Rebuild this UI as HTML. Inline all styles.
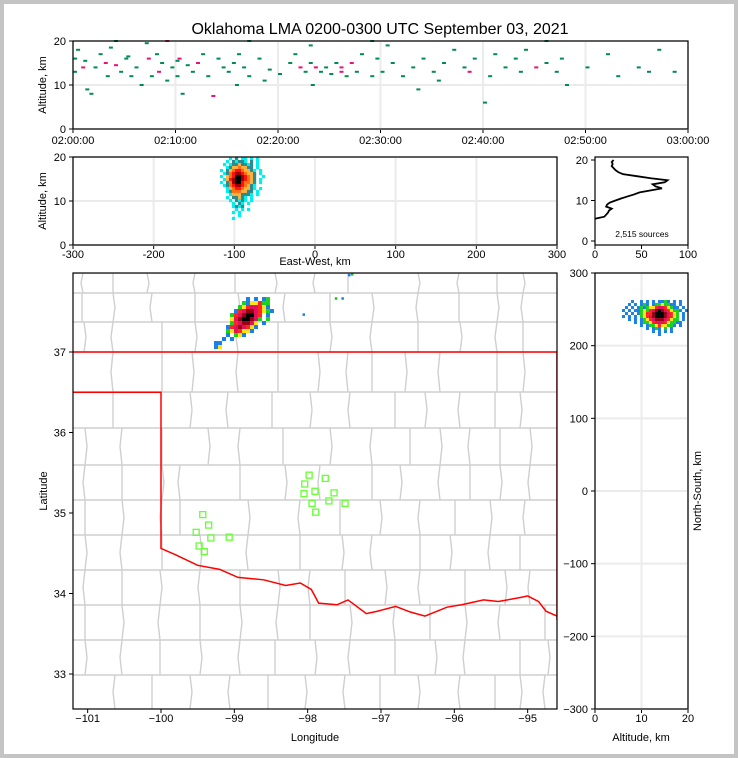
<!DOCTYPE html>
<html><head><meta charset="utf-8">
<style>
html,body{margin:0;padding:0;background:#c4c4c4;}
svg{display:block;font-family:"Liberation Sans",sans-serif;}
</style></head>
<body>
<svg id="chart" width="738" height="758" viewBox="0 0 738 758" xmlns="http://www.w3.org/2000/svg">
<rect x="4" y="4" width="730" height="750" fill="#fff"/>
<text x="380" y="34" font-size="16" text-anchor="middle">Oklahoma LMA 0200-0300 UTC September 03, 2021</text>
<g id="layer"></g>
</svg>
<script>
// ---- time-height data ----
const timesMin=[0,0,0.3,0.8,1,1.2,1.6,2,2.5,3,3.2,3.5,4,4.5,5,5.2,5.5,6,6.5,7,7.2,7.5,8,8.2,8.5,9,9.5,10,10,10.2,10.5,11,11.5,12,12.5,13,13.5,14,14.5,15,15.5,15.8,16,16.5,17,18,18.5,19,20,21,21.5,22,22.5,23,23,23.2,23.5,24,24.5,25,25.5,26,26,26.5,27,27.5,28,29,29.5,30,30.5,31,32,33,33.5,34,35,35.5,36,37,38,38.5,39,40,40.5,41,42,43,43.5,44,45,46,47,47.5,48,50,52,53,55,56,57,58.5,4,9,17,29,46];
const altsKm=[16,13,18,14,15.5,9,8,14,17,15,12,18.5,14.5,13,16,16.5,12,14,10,19.5,16,12,17,13,15,11,14,15.5,12,16,8,14.5,13,15,17,12,7.5,16,14,13,15,10,17,14,12,16,11,13.5,12.5,15,17,14,13,19,15,10,14,13,14,12.5,15,14,13,12,15,13,17,12,16,13,19,15,12,14,9,16,13,11,15,18,14,13,16,6,12,17,14,16,13,18,14,15,13,16,10,14,17,12,14,13,18,13,20,20,20,20,20];
const kinds=[0,0,0,1,0,0,0,0,0,1,0,0,1,0,0,0,0,0,0,0,1,0,0,1,0,0,0,0,0,1,0,0,0,1,0,0,1,0,0,0,0,0,0,0,0,0,0,0,0,0,0,1,0,0,0,0,1,0,0,0,0,1,1,0,1,0,0,0,0,0,0,0,0,0,0,0,0,0,0,0,0,1,0,0,0,0,0,0,0,0,1,0,0,0,0,0,0,0,0,0,0,0,0,1,0,0,0,0];
const timeTicks=[0,10,20,30,40,50,60];
const timeTickLabels=["02:00:00","02:10:00","02:20:00","02:30:00","02:40:00","02:50:00","03:00:00"];
const altTicks=[0,10,20];
// ---- east-west / altitude density grid ----
const xzGridRows=["...1.2.11.1.1...","..1.21221.2.1...",".1.12232212.1...","..123343322.1...","1.2345543321.1..",".12456654332.1..","1.3457765432..1.",".13567765432.1..","1.2467754432.1..",".12456654321....","..1345543321.1..","..124443322.1...","...13332221.1...","..1.22321.1.....","...1.2121.1.....","....1.21.1......","....1212........",".....1.1.1......","....1.1.........","......1.........","....1..........."];
const xzOrigin=[-117.8,20]; const xzStep=[3.72,0.68];
const ewTicks=[-300,-200,-100,0,100,200,300];
// ---- altitude histogram ----
const histAlts=[5.5,6,6.5,7,7.5,8,8.5,9,9.5,10,10.5,11,11.5,12,12.5,13,13.5,14,14.5,15,15.5,16,16.5,17,17.5,18,18.5,19,19.5,20];
const histCounts=[0,10,12,14,15,18,12,13,16,22,28,35,42,48,60,72,65,62,75,78,60,45,30,25,22,20,18,19,18,20];
const histTicks=[0,50,100];
// ---- plan view density grid ----
const planGridRows=["........1.1.12.",".......2133422.","......23455431.",".....1456654321","....24567754.1.","....35677652.2.","....2456653.1..","...14565431....","...2354331.....","...1.231.......","..1.1..........","11.............","13............."];
const planOrigin=[-99.277,37.683]; const planStep=[0.0545,0.0497];
const extraLon=[-98.07,-97.54,-97.45,-97.41,-97.63];
const extraLat=[37.48,37.68,37.97,37.98,37.68];
const stationLon=[-97.98,-97.76,-98.04,-97.90,-98.05,-97.64,-97.94,-97.71,-97.49,-97.89,-99.43,-99.35,-99.52,-99.32,-99.07,-99.48,-99.41];
const stationLat=[35.47,35.43,35.36,35.27,35.24,35.25,35.12,35.15,35.12,35.01,34.98,34.85,34.76,34.69,34.70,34.59,34.52];
const lonTicks=[-101,-100,-99,-98,-97,-96,-95];
const latTicks=[33,34,35,36,37];
// ---- altitude / north-south density grid ----
const yzGridRows=["...1..1.1.1.1121.1.1...","..1.1.121.12232211.1..",".1.1.12123345543211.1.","1.1.1123245676543221.1",".1.1.12344677765432.1.","1.1.1.2345677765432.1.","..1.1.1234566654322.1.","....1.12234555432211..","......1.1223433221.1..","........1.121.2.1.....","..........1.1.1.1.....","............1........."];
const yzOrigin=[5.8,262.8]; const yzStep=[0.645,4.13];
const nsTicks=[-300,-200,-100,0,100,200,300];
const altTicks2=[0,10,20];
// Oklahoma border
const borderLon=[-101.3,-100,-100,-99.8,-99.5,-99.2,-98.95,-98.6,-98.3,-98.1,-97.95,-97.85,-97.6,-97.45,-97.2,-97.05,-96.8,-96.6,-96.4,-96.1,-95.9,-95.6,-95.4,-95.1,-95.0,-94.85,-94.75,-94.6,-94.48];
const borderLat=[36.5,36.5,34.56,34.48,34.35,34.3,34.2,34.17,34.1,34.13,34.05,33.88,33.86,33.92,33.75,33.78,33.84,33.77,33.72,33.83,33.86,33.92,33.9,33.95,33.97,33.9,33.78,33.72,33.67];

const NS="http://www.w3.org/2000/svg";
const L=document.getElementById('layer');
function mk(tag,attrs,parent){const e=document.createElementNS(NS,tag);for(const k in attrs)e.setAttribute(k,attrs[k]);(parent||L).appendChild(e);return e;}
function txt(x,y,s,size,anchor,parent,rot){const t=mk('text',{x:x,y:y,'font-size':size,'text-anchor':anchor||'middle'},parent);if(rot)t.setAttribute('transform','rotate(-90 '+x+' '+y+')');t.textContent=s;return t;}

// scales
const tx=t=>73+t/60*615, ty=a=>129-a/20*88;
const ex=e=>73+(e+300)/600*484, ey=a=>245-a*4.4;
const hx=c=>595+c*0.93, hy=a=>241-a*4.05;
const mx=lon=>73+(lon+101.2)*73.33, my=lat=>352-(lat-37)*80.5;
const rx=a=>595+a*4.65, ry=n=>491-n*0.7267;

function clipRect(id,x,y,w,h){const cp=mk('clipPath',{id:id});mk('rect',{x:x,y:y,width:w,height:h},cp);}

// ===== Panel 1: time-height =====
const g1=mk('g',{});


timeTicks.forEach((t,i)=>{
  mk('line',{x1:tx(t),x2:tx(t),y1:41,y2:129,stroke:'#ebebeb','stroke-width':2},g1);
  mk('line',{x1:tx(t),x2:tx(t),y1:129,y2:133,stroke:'#000'},g1);
  const lb=txt(tx(t),144,timeTickLabels[i],11,'middle',g1);
  
  
});
altTicks.forEach(a=>{
  mk('line',{x1:73,x2:688,y1:ty(a),y2:ty(a),stroke:'#ebebeb','stroke-width':2},g1);
  mk('line',{x1:69,x2:73,y1:ty(a),y2:ty(a),stroke:'#000'},g1);
  txt(66,ty(a)+4,String(a),11,'end',g1);
});
const nTH=Math.min(timesMin.length,altsKm.length,kinds.length);
for(let i=0;i<nTH;i++){
  const r=mk('rect',{x:tx(timesMin[i]),y:ty(altsKm[i])-1,width:4,height:2,fill:kinds[i]?'#e8107a':'#008a55'},g1);
  
  
}
mk('rect',{x:73,y:41,width:615,height:88,fill:'none',stroke:'#000','stroke-width':1.2},g1);
const t1=txt(46,85,'Altitude, km',11,'middle',g1,true);



// color maps
const planColors=['','#1a7fe8','#19d219','#ffe31a','#ff2424','#e0105e','#9a0010','#000'];
const xzColors=['','#00f0f0','#2e8b8b','#ffb040','#ff7010','#ff1010','#a00000','#000'];

// ===== Panel 2: east-west vs altitude =====
const g2=mk('g',{});


ewTicks.forEach(e=>{
  mk('line',{x1:ex(e),x2:ex(e),y1:157,y2:245,stroke:'#ebebeb','stroke-width':2},g2);
  mk('line',{x1:ex(e),x2:ex(e),y1:245,y2:249,stroke:'#000'},g2);
  txt(ex(e),258,String(e),11,'middle',g2);
});
altTicks.forEach(a=>{
  mk('line',{x1:73,x2:557,y1:ey(a),y2:ey(a),stroke:'#ebebeb','stroke-width':2},g2);
  mk('line',{x1:69,x2:73,y1:ey(a),y2:ey(a),stroke:'#000'},g2);
  txt(66,ey(a)+4,String(a),11,'end',g2);
});
xzGridRows.forEach((row,ri)=>{
  for(let ci=0;ci<row.length;ci++){
    const c=row[ci]; if(c==='.')continue;
    const e=xzOrigin[0]+ci*xzStep[0], a=xzOrigin[1]-ri*xzStep[1];
    const r=mk('rect',{x:ex(e),y:ey(a),width:3.2,height:3.2,fill:xzColors[+c]},g2);
    
    
  }
});
mk('rect',{x:73,y:157,width:484,height:88,fill:'none',stroke:'#000','stroke-width':1.2},g2);
const t2=txt(46,201,'Altitude, km',11,'middle',g2,true);


const t3=txt(315,265,'East-West, km',11,'middle',g2);



// ===== Panel 3: histogram =====
const g3=mk('g',{});


histTicks.forEach(c=>{
  mk('line',{x1:hx(c),x2:hx(c),y1:245,y2:249,stroke:'#000'},g3);
  txt(hx(c),258,String(c),11,'middle',g3);
});
altTicks.forEach(a=>{
  mk('line',{x1:591,x2:595,y1:hy(a),y2:hy(a),stroke:'#000'},g3);
  txt(588,hy(a)+4,String(a),11,'end',g3);
});
const hp=mk('polyline',{points:histAlts.map((a,i)=>hx(histCounts[i])+','+hy(a)).join(' '),fill:'none',stroke:'#000','stroke-width':1.8},g3);


mk('rect',{x:595,y:157,width:93,height:88,fill:'none',stroke:'#000','stroke-width':1.2},g3);
const sc=txt(642,237,'2,515 sources',8.5,'middle',g3);



// ===== Panel 4: plan view map =====
clipRect('mapclip',73,273,484,436);
const g4=mk('g',{});


const gm=mk('g',{'clip-path':'url(#mapclip)'},g4);
const bands=[[273,293,[83,113,147,195,235,275,315,348,418,459,497,523]],[293,322,[82,113,152,195,238,285,330,372,418,459,497,523]],[322,352,[84,113,162,195,238,278,330,372,418,460,497,523]],[352,392,[113,162,192,238,278,318,348,372,405,440,497,523]],[392,428,[113,190,228,272,310,350,395,425,460,495,520]],[428,465,[85,122,162,208,240,283,330,372,410,440,470,500,530]],[465,500,[85,122,162,180,240,285,320,372,400,440,470,500,530]],[500,535,[85,122,162,180,248,300,340,380,420,455,490,525]],[535,570,[85,122,162,200,248,300,342,372,420,450,490,520]],[570,605,[85,122,160,200,240,278,310,345,385,420,465,505,530]],[605,640,[85,122,160,200,240,278,310,350,395,430,465,500,545]],[640,675,[85,122,160,200,240,275,315,350,395,435,465,520,548]],[675,709,[115,152,190,230,268,305,345,380,418,460,495,520,545]]];
const county=mk('g',{stroke:'#cfcfcf','stroke-width':1.4,fill:'none'},gm);


bands.forEach(([y0,y1,xs],bi)=>{
  mk('line',{x1:73,x2:557,y1:y0,y2:y0},county);
  xs.forEach((x,k)=>{const off=((bi+k)%3-1)*2;mk('polyline',{points:x+','+y0+' '+(x+off)+','+((y0+y1)/2)+' '+x+','+y1},county);});
});
const bp=mk('polyline',{points:borderLon.map((lon,i)=>mx(lon)+','+my(borderLat[i])).join(' '),fill:'none',stroke:'#ff0000','stroke-width':1.5},gm);


const tl=mk('line',{x1:73,x2:557,y1:my(37),y2:my(37),stroke:'#ff0000','stroke-width':1.5},gm);


mk('line',{x1:557,x2:557,y1:my(37),y2:my(33.67),stroke:'#ff0000','stroke-width':1.5},gm);
planGridRows.forEach((row,ri)=>{
  for(let ci=0;ci<row.length;ci++){
    const c=row[ci]; if(c==='.')continue;
    const lon=planOrigin[0]+ci*planStep[0], lat=planOrigin[1]-ri*planStep[1];
    const r=mk('rect',{x:mx(lon),y:my(lat),width:4,height:4,fill:planColors[+c]},gm);
    
    
  }
});
extraLon.forEach((lon,i)=>{
  const r=mk('rect',{x:mx(lon),y:my(extraLat[i]),width:2.5,height:2.5,fill:i>2?'#19c019':'#1a7fe8'},gm);
  
  
});
stationLon.forEach((lon,i)=>{
  const r=mk('rect',{x:mx(lon)-3,y:my(stationLat[i])-3,width:6,height:6,fill:'none',stroke:'#66ff33','stroke-width':1.3},gm);
  
  
});
lonTicks.forEach(lon=>{
  mk('line',{x1:mx(lon),x2:mx(lon),y1:709,y2:713,stroke:'#000'},g4);
  txt(mx(lon),722,String(lon).replace('-','\u2212'),11,'middle',g4);
});
latTicks.forEach(lat=>{
  mk('line',{x1:69,x2:73,y1:my(lat),y2:my(lat),stroke:'#000'},g4);
  txt(66,my(lat)+4,String(lat),11,'end',g4);
});
mk('rect',{x:73,y:273,width:484,height:436,fill:'none',stroke:'#000','stroke-width':1.2},g4);
const t4=txt(315,741,'Longitude',11,'middle',g4);


const t5=txt(47,491,'Latitude',11,'middle',g4,true);



// ===== Panel 5: altitude vs north-south =====
const g5=mk('g',{});


altTicks2.forEach(a=>{
  mk('line',{x1:rx(a),x2:rx(a),y1:273,y2:709,stroke:'#ebebeb','stroke-width':2},g5);
  mk('line',{x1:rx(a),x2:rx(a),y1:709,y2:713,stroke:'#000'},g5);
  txt(rx(a),722,String(a),11,'middle',g5);
});
nsTicks.forEach(n=>{
  mk('line',{x1:595,x2:688,y1:ry(n),y2:ry(n),stroke:'#ebebeb','stroke-width':2},g5);
  mk('line',{x1:591,x2:595,y1:ry(n),y2:ry(n),stroke:'#000'},g5);
  txt(588,ry(n)+4,String(n).replace('-','\u2212'),11,'end',g5);
});
yzGridRows.forEach((row,ri)=>{
  for(let ci=0;ci<row.length;ci++){
    const c=row[ci]; if(c==='.')continue;
    const a=yzOrigin[0]+ci*yzStep[0], n=yzOrigin[1]-ri*yzStep[1];
    if(rx(a)>686)continue;
    const r=mk('rect',{x:rx(a),y:ry(n),width:3,height:3,fill:planColors[+c]},g5);
    
    
  }
});
mk('rect',{x:595,y:273,width:93,height:436,fill:'none',stroke:'#000','stroke-width':1.2},g5);
const t6=txt(641,741,'Altitude, km',11,'middle',g5);


const t7=txt(701,491,'North-South, km',11,'middle',g5,true);


</script>
</body></html>
